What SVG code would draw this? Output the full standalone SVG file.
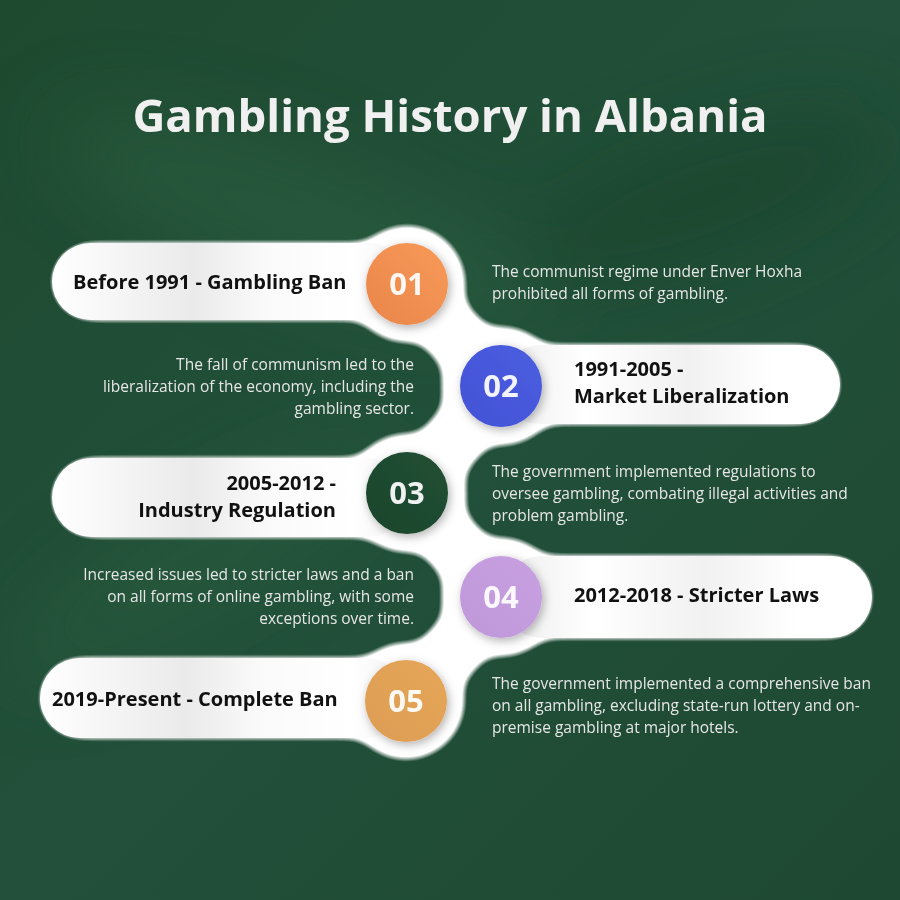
<svg xmlns="http://www.w3.org/2000/svg" width="900" height="900" viewBox="0 0 900 900">
<defs>
<style>
.title{font-family:"Open Sans","Liberation Sans",sans-serif;font-weight:700;font-size:45.5px;fill:#F0F0F0}
.lbl{font-family:"Open Sans","Liberation Sans",sans-serif;font-weight:700;font-size:20px;fill:#111111}
.num{font-family:"Open Sans","Liberation Sans",sans-serif;font-weight:700;font-size:31px;fill:#FFFFFF;fill-opacity:0.93;text-anchor:middle}
.desc{font-family:"Open Sans","Liberation Sans",sans-serif;font-size:15.5px;fill:#E6E6E6}
.end{text-anchor:end}
</style>
<linearGradient id="bg" x1="0" y1="0" x2="1" y2="1">
<stop offset="0" stop-color="#1E4A30"/>
<stop offset="0.5" stop-color="#22503A"/>
<stop offset="1" stop-color="#1E4831"/>
</linearGradient>
<linearGradient id="sheenL" x1="0" y1="0" x2="1" y2="0">
<stop offset="0" stop-color="#FFFFFF"/>
<stop offset="0.4" stop-color="#EAEAEA"/>
<stop offset="0.6" stop-color="#FAFAFA"/>
<stop offset="0.85" stop-color="#FFFFFF"/>
<stop offset="1" stop-color="#F2F2F2"/>
</linearGradient>
<linearGradient id="sheenR" x1="0" y1="0" x2="1" y2="0">
<stop offset="0" stop-color="#EDEDED"/>
<stop offset="0.25" stop-color="#FFFFFF"/>
<stop offset="0.55" stop-color="#F1F1F1"/>
<stop offset="0.8" stop-color="#FFFFFF"/>
<stop offset="1" stop-color="#FFFFFF"/>
</linearGradient>
<linearGradient id="g1" x1="1" y1="0" x2="0" y2="1"><stop offset="0" stop-color="#F89A58"/><stop offset="1" stop-color="#E9854A"/></linearGradient>
<linearGradient id="g2" x1="1" y1="0" x2="0" y2="1"><stop offset="0" stop-color="#4A5EE0"/><stop offset="1" stop-color="#4352D6"/></linearGradient>
<linearGradient id="g3" x1="1" y1="0" x2="0" y2="1"><stop offset="0" stop-color="#215033"/><stop offset="1" stop-color="#1C452D"/></linearGradient>
<linearGradient id="g4" x1="1" y1="0" x2="0" y2="1"><stop offset="0" stop-color="#C8A0E0"/><stop offset="1" stop-color="#BF98DA"/></linearGradient>
<linearGradient id="g5" x1="1" y1="0" x2="0" y2="1"><stop offset="0" stop-color="#E6A75A"/><stop offset="1" stop-color="#DD9C52"/></linearGradient>
<filter id="goo" filterUnits="userSpaceOnUse" x="0" y="0" width="900" height="900">
<feGaussianBlur in="SourceGraphic" stdDeviation="10" result="b"/>
<feColorMatrix in="b" mode="matrix" values="1 0 0 0 0  0 1 0 0 0  0 0 1 0 0  0 0 0 5 -1.8"/>
</filter>
<filter id="shadow" x="-40%" y="-40%" width="180%" height="180%">
<feDropShadow dx="2" dy="3" stdDeviation="5" flood-color="#000000" flood-opacity="0.3"/>
</filter>
<filter id="soft" filterUnits="userSpaceOnUse" x="0" y="0" width="900" height="900">
<feGaussianBlur stdDeviation="40"/>
</filter>
</defs>

<rect width="900" height="900" fill="url(#bg)"/>
<g filter="url(#soft)" opacity="0.5">
<ellipse cx="300" cy="220" rx="260" ry="60" fill="#2E6444" transform="rotate(20 300 220)"/>
<ellipse cx="200" cy="560" rx="220" ry="50" fill="#2C6040" transform="rotate(-30 200 560)"/>
<ellipse cx="700" cy="200" rx="200" ry="60" fill="#184028" transform="rotate(-20 700 200)"/>
</g>

<text class="title" x="450" y="132" text-anchor="middle">Gambling History in Albania</text>

<g id="connectors">
<g filter="url(#goo)" fill="#FFFFFF">
<polyline points="407,284 501,386 407,493 501,597 406,701" fill="none" stroke="#FFFFFF" stroke-width="58" stroke-linejoin="round" stroke-linecap="round"/>
<circle cx="407" cy="284" r="58"/>
<circle cx="501" cy="386" r="59"/>
<circle cx="407" cy="493" r="59"/>
<circle cx="501" cy="597" r="59"/>
<circle cx="406" cy="701" r="58"/>
<rect x="52" y="243" width="390" height="77" rx="38.5"/>
<rect x="465" y="345" width="375" height="79" rx="39.5"/>
<rect x="52" y="458" width="390" height="79" rx="39.5"/>
<rect x="465" y="556" width="407" height="82" rx="41"/>
<rect x="40" y="658" width="400" height="80" rx="40"/>
</g>
</g>

<g id="node1">
<rect x="52" y="243" width="355" height="77" rx="38.5" fill="url(#sheenL)"/>
<circle cx="407" cy="284" r="41" fill="url(#g1)" filter="url(#shadow)"/>
<text class="num" x="407" y="295">01</text>
<text class="lbl" x="73" y="289">Before 1991 - Gambling Ban</text>
<text class="desc" x="492" y="277">The communist regime under Enver Hoxha</text>
<text class="desc" x="492" y="299">prohibited all forms of gambling.</text>
</g>

<g id="node2">
<rect x="501" y="345" width="339" height="79" rx="39.5" fill="url(#sheenR)"/>
<circle cx="501" cy="386" r="41" fill="url(#g2)" filter="url(#shadow)"/>
<text class="num" x="501" y="397">02</text>
<text class="lbl" x="574" y="376">1991-2005 -</text>
<text class="lbl" x="574" y="403">Market Liberalization</text>
<text class="desc end" x="414" y="370">The fall of communism led to the</text>
<text class="desc end" x="414" y="392">liberalization of the economy, including the</text>
<text class="desc end" x="414" y="414">gambling sector.</text>
</g>

<g id="node3">
<rect x="52" y="458" width="355" height="79" rx="39.5" fill="url(#sheenL)"/>
<circle cx="407" cy="493" r="41" fill="url(#g3)" filter="url(#shadow)"/>
<text class="num" x="407" y="504">03</text>
<text class="lbl end" x="336" y="490">2005-2012 -</text>
<text class="lbl end" x="336" y="517">Industry Regulation</text>
<text class="desc" x="492" y="477">The government implemented regulations to</text>
<text class="desc" x="492" y="499">oversee gambling, combating illegal activities and</text>
<text class="desc" x="492" y="521">problem gambling.</text>
</g>

<g id="node4">
<rect x="501" y="556" width="371" height="82" rx="41" fill="url(#sheenR)"/>
<circle cx="501" cy="597" r="41" fill="url(#g4)" filter="url(#shadow)"/>
<text class="num" x="501" y="608">04</text>
<text class="lbl" x="574" y="602">2012-2018 - Stricter Laws</text>
<text class="desc end" x="414" y="580">Increased issues led to stricter laws and a ban</text>
<text class="desc end" x="414" y="602">on all forms of online gambling, with some</text>
<text class="desc end" x="414" y="624">exceptions over time.</text>
</g>

<g id="node5">
<rect x="40" y="658" width="366" height="80" rx="40" fill="url(#sheenL)"/>
<circle cx="406" cy="701" r="41" fill="url(#g5)" filter="url(#shadow)"/>
<text class="num" x="406" y="712">05</text>
<text class="lbl" x="52" y="706">2019-Present - Complete Ban</text>
<text class="desc" x="492" y="689">The government implemented a comprehensive ban</text>
<text class="desc" x="492" y="711">on all gambling, excluding state-run lottery and on-</text>
<text class="desc" x="492" y="733">premise gambling at major hotels.</text>
</g>
</svg>
